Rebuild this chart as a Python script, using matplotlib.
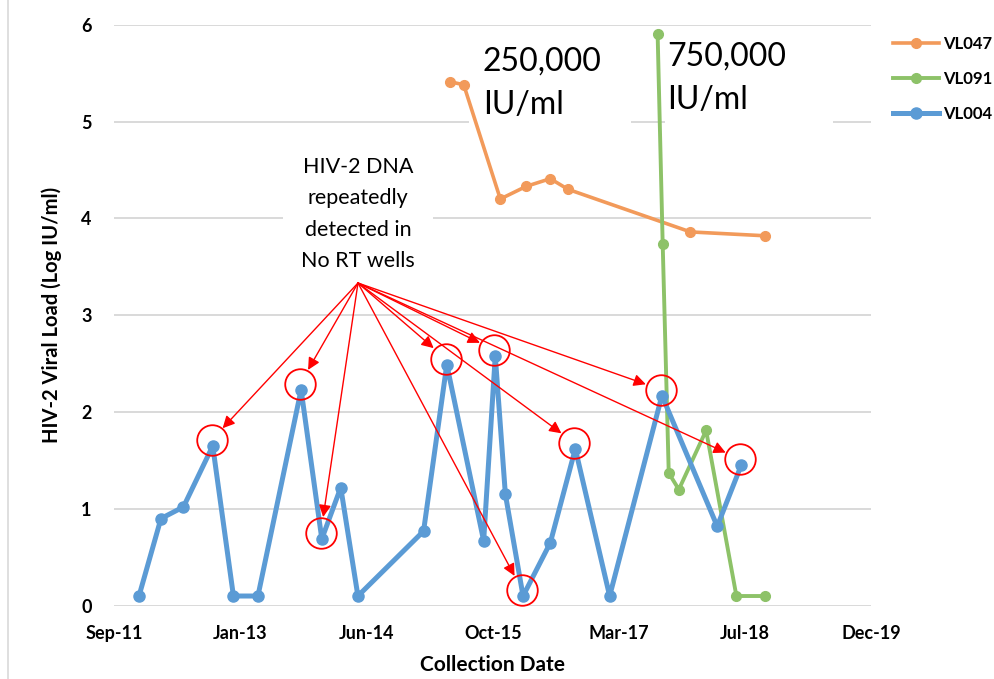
import matplotlib
matplotlib.use('Agg')
import matplotlib.pyplot as plt
import matplotlib.dates as mdates
from matplotlib.lines import Line2D
from matplotlib.patches import Rectangle
from matplotlib.transforms import offset_copy
import pandas as pd

# ---------------- data ----------------
vl004_dates = ['2011-12-22', '2012-03-18', '2012-06-15', '2012-10-09', '2012-12-30',
               '2013-04-06', '2013-09-24', '2013-12-15', '2014-02-28', '2014-05-07',
               '2015-01-22', '2015-04-24', '2015-09-17', '2015-11-02', '2015-12-12',
               '2016-02-20', '2016-06-07', '2016-09-14', '2017-01-28', '2017-08-23',
               '2018-03-30', '2018-07-03']
vl004_values = [0.10, 0.90, 1.02, 1.65, 0.10, 0.10, 2.23, 0.69, 1.22, 0.10,
                0.77, 2.49, 0.67, 2.58, 1.15, 0.10, 0.65, 1.62, 0.10, 2.17,
                0.82, 1.45]

vl091_dates = ['2017-08-06', '2017-08-26', '2017-09-19', '2017-10-29', '2018-02-14',
               '2018-06-14', '2018-10-07']
vl091_values = [5.90, 3.74, 1.37, 1.20, 1.81, 0.10, 0.10]

vl047_dates = ['2015-05-08', '2015-06-30', '2015-11-22', '2016-03-03', '2016-06-07',
               '2016-08-16', '2017-12-14', '2018-10-07']
vl047_values = [5.41, 5.38, 4.20, 4.33, 4.41, 4.30, 3.86, 3.82]

# VL004 samples where HIV-2 DNA was detected in No RT wells
highlight_idx = [3, 6, 7, 11, 13, 15, 17, 19, 21]

x_start = '2011-09-14'
x_end = '2019-12-01'
tick_step_days = 500
y_ticks = [0, 1, 2, 3, 4, 5, 6]

annotation_text = 'HIV-2 DNA\nrepeatedly\ndetected in\nNo RT wells'
label_vl047 = '250,000\nIU/ml'
label_vl091 = '750,000\nIU/ml'

# ---------------- style ----------------
plt.rcParams['font.family'] = ['Lato', 'DejaVu Sans']
C_BLUE = '#5B9BD5'
C_ORANGE = '#F29A5A'
C_GREEN = '#8DC268'
C_GRID = '#D9D9D9'

W, H = 994, 679
fig = plt.figure(figsize=(W / 100, H / 100), dpi=100)
ax = fig.add_axes([114 / W, 1 - 605.7 / H, 757.5 / W, 581 / H])

to_num = lambda ds: mdates.date2num(pd.to_datetime(ds))
x004, x091, x047 = to_num(vl004_dates), to_num(vl091_dates), to_num(vl047_dates)
x0, x1 = to_num([x_start, x_end])

ax.set_xlim(x0, x1)
ax.set_ylim(0, 6)
ax.set_xticks([x0 + tick_step_days * k for k in range(int((x1 - x0) // tick_step_days) + 1)])
ax.xaxis.set_major_formatter(mdates.DateFormatter('%b-%y'))
ax.set_yticks(y_ticks)

for s in ax.spines.values():
    s.set_visible(False)
ax.set_axisbelow(True)
ax.grid(axis='y', color=C_GRID, lw=1.4)
ax.tick_params(length=0, labelsize=13)
ax.tick_params(axis='y', pad=16)
ax.tick_params(axis='x', pad=14)
for lab in ax.get_xticklabels() + ax.get_yticklabels():
    lab.set_fontweight('bold')

ax.set_xlabel('Collection Date', fontsize=15, fontweight='bold', labelpad=9)
ax.set_ylabel('HIV-2 Viral Load (Log IU/ml)', fontsize=14.5, fontweight='bold', labelpad=14)

# white text boxes (cover gridlines)
for (bx0, bx1, by0, by1) in [(283, 433, 150, 272), (469, 631, 36, 140), (665, 833, 36, 140)]:
    ax.add_patch(Rectangle(((bx0 - 114) / 757.5, (605.7 - by1) / 581),
                           (bx1 - bx0) / 757.5, (by1 - by0) / 581,
                           transform=ax.transAxes, facecolor='white', edgecolor='none', zorder=1))

# series
l047, = ax.plot(x047, vl047_values, color=C_ORANGE, lw=2.6, marker='o', ms=7, zorder=3, label='VL047')
l091, = ax.plot(x091, vl091_values, color=C_GREEN, lw=2.8, marker='o', ms=7, zorder=3.1, label='VL091')
l004, = ax.plot(x004, vl004_values, color=C_BLUE, lw=3.6, marker='o', ms=8, zorder=3.2, label='VL004')

# highlight circles and arrows
circ_tr = offset_copy(ax.transData, fig=fig, x=-1, y=6, units='dots')
hx = [x004[i] for i in highlight_idx]
hy = [vl004_values[i] for i in highlight_idx]
ax.plot(hx, hy, linestyle='none', marker='o', ms=22, mfc='none', mec='red', mew=1.3,
        transform=circ_tr, zorder=5)
src = ((358 - 114) / 757.5, (605.7 - 283) / 581)
for xx, yy in zip(hx, hy):
    ax.annotate('', xy=(xx, yy), xycoords=circ_tr, xytext=src, textcoords='axes fraction',
                arrowprops=dict(arrowstyle='-|>', color='red', lw=1, mutation_scale=18,
                                shrinkA=0, shrinkB=11.5), zorder=4)

ax.text((358 - 114) / 757.5, (605.7 - 214) / 581, annotation_text, transform=ax.transAxes,
        ha='center', va='center', fontsize=15.5, linespacing=1.72, zorder=1.5)
ax.text((483 - 114) / 757.5, (605.7 - 47) / 581, label_vl047, transform=ax.transAxes,
        ha='left', va='top', fontsize=23, linespacing=1.55, zorder=1.5)
ax.text((667 - 114) / 757.5, (605.7 - 42) / 581, label_vl091, transform=ax.transAxes,
        ha='left', va='top', fontsize=23, linespacing=1.55, zorder=1.5)

# legend
fig.legend(handles=[l047, l091, l004], loc='upper left', bbox_to_anchor=(886 / W, 1 - 29 / H),
           frameon=False, prop={'weight': 'bold', 'size': 12}, handlelength=2.8,
           handletextpad=0.2, labelspacing=1.15, numpoints=1, borderaxespad=0)

# chart-area left border
fig.add_artist(Line2D([8 / W, 8 / W], [0, 1], color=C_GRID, lw=1.2))

fig.savefig('out.png', dpi=100)
